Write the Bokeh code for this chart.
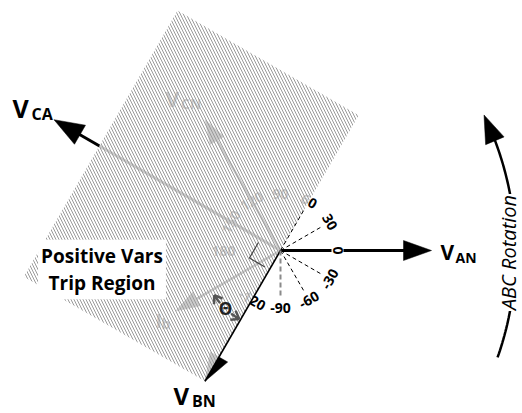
import numpy as np
from bokeh.plotting import figure
from bokeh.models import Range1d, Label
from bokeh.core.properties import value
from bokeh.embed import file_html
from bokeh.resources import INLINE

# ---------------- data ----------------
phasor_names = ["V_AN", "V_BN", "V_CN", "V_CA", "I_B"]
phasor_main = ["V", "V", "V", "V", "I"]
phasor_sub = ["AN", "BN", "CN", "CA", "b"]
phasor_angle_deg = [0, -120, 120, 150, -150]
phasor_mag_pu = [1.0, 1.0, 1.0, 1.732, 0.8]

scale_angle_deg = [60, 30, 0, -30, -60, -90, -120, 90, 120, 150, 180]
scale_text = ["60", "30", "0", "-30", "-60", "-90", "-120", "90", "120", "150", "180"]
ray_angle_deg = [60, 30, -30, -60, -90]

trip_axis_deg = 60
trip_along_pu = [-1.0, 1.035]
trip_across_pu = 1.385
theta_between_deg = [-121, -146]
rotation_arc_deg = [-19.4, 25.8]
region_text = "Positive Vars\nTrip Region"
rotation_text = "ABC Rotation"
theta_text = "Θ"

# ---------------- layout ----------------
S = 151.0          # px per pu
W, H = 522, 413
OX, OY = 280, 250  # origin location inside canvas
FONT = "Open Sans"


def pol(r, deg):
    a = np.deg2rad(deg)
    return r * np.cos(a), r * np.sin(a)


def head(tx, ty, deg, L, Wd):
    c, s = np.cos(np.deg2rad(deg)), np.sin(np.deg2rad(deg))
    bx, by = tx - L * c, ty - L * s
    xs = [tx, bx - Wd / 2 * s, bx + Wd / 2 * s]
    ys = [ty, by + Wd / 2 * c, by - Wd / 2 * c]
    return xs, ys, (bx + 3 * c, by + 3 * s)


# label offsets: (dx, dy of glyph middle from tip, font size)
style = {
    "V_AN": dict(w=2.8, L=28, Wd=20, m=(9, -1.5, "21px"), s=(24, -7, "14px")),
    "V_BN": dict(w=1.6, L=28, Wd=20, m=(-31.5, -14.5, "24px"), s=(-13, -20, "16px")),
    "V_CN": dict(w=2.5, L=24, Wd=16, m=(-39.5, 21.2, "21px"), s=(-24, 16.2, "14px")),
    "V_CA": dict(w=3.0, L=30, Wd=22, m=(-41.5, 11.8, "25px"), s=(-22.5, 6.2, "16px")),
    "I_B": dict(w=2.5, L=24, Wd=16, m=(-20.4, -9.6, "20px"), s=(-14.4, -12.6, "14px")),
}

p = figure(width=W, height=H, x_range=Range1d(-OX, W - OX), y_range=Range1d(-(H - OY), OY),
           output_backend="svg", toolbar_location=None, x_axis_type=None, y_axis_type=None,
           min_border=0, outline_line_color=None, background_fill_color="white",
           border_fill_color="white")

tips = {}
for name, ang, mag in zip(phasor_names, phasor_angle_deg, phasor_mag_pu):
    tips[name] = pol(mag * S, ang)


def draw_phasor(name, ang):
    st = style[name]
    tx, ty = tips[name]
    hx, hy, (bx, by) = head(tx, ty, ang, st["L"], st["Wd"])
    if name != "V_BN":
        p.line([0, bx], [0, by], line_color="black", line_width=st["w"])
    p.patch(hx, hy, fill_color="black", line_color="black", line_width=0.5)


def draw_label(name, color="black"):
    st = style[name]
    tx, ty = tips[name]
    i = phasor_names.index(name)
    p.text(x=[tx + st["m"][0]], y=[ty + st["m"][1]], text=[phasor_main[i]],
           text_font=value(FONT), text_font_style="bold", text_font_size=st["m"][2],
           text_align="left", text_baseline="middle", text_color=color)
    p.text(x=[tx + st["s"][0]], y=[ty + st["s"][1]], text=[phasor_sub[i]],
           text_font=value(FONT), text_font_style="bold", text_font_size=st["s"][2],
           text_align="left", text_baseline="middle", text_color=color)


# elements beneath the hatched overlay (appear faded)
for name, ang in zip(phasor_names, phasor_angle_deg):
    if name in ("V_CA", "V_CN", "I_B", "V_BN"):
        draw_phasor(name, ang)
draw_label("V_CN")
draw_label("I_B")

draw_phasor("V_AN", 0)

# angle scale labels
LR = 57


def tang(a):
    if a == 180:
        return 0
    r = (a - 90 + 180) % 360 - 180
    if r < -90:
        r += 180
    elif r > 90:
        r -= 180
    return r


lx, ly, lt, la = [], [], [], []
bx_, by_, bt_, ba_ = [], [], [], []
for a, t in zip(scale_angle_deg, scale_text):
    x, y = pol(LR, a)
    if a == 0:
        bx_.append(x); by_.append(y); bt_.append(t); ba_.append(np.deg2rad(tang(a)))
    else:
        lx.append(x); ly.append(y); lt.append(t); la.append(np.deg2rad(tang(a)))
p.text(x=lx, y=ly, text=lt, angle=la, text_font=value(FONT), text_font_style="bold",
       text_font_size="14px", text_align="center", text_baseline="middle", text_color="black")
p.text(x=bx_, y=by_, text=bt_, angle=ba_, text_font=value(FONT), text_font_style="bold",
       text_font_size="14px", text_align="center", text_baseline="middle", text_color="black",
       background_fill_color="white", padding=1)

# ---- hatched trip region ----
ux, uy = pol(1, trip_axis_deg)
vx, vy = pol(1, trip_axis_deg + 90)
a0, a1 = trip_along_pu[0] * S, trip_along_pu[1] * S
wd = trip_across_pu * S
rx = [a0 * ux, a1 * ux, a1 * ux + wd * vx, a0 * ux + wd * vx]
ry = [a0 * uy, a1 * uy, a1 * uy + wd * vy, a0 * uy + wd * vy]
p.patch(rx, ry, fill_color="white", fill_alpha=0.8, line_color=None,
        hatch_pattern="\\", hatch_color="#9a9a9a", hatch_scale=6, hatch_weight=1.0)

# ---- on top ----
p.line([0, tips["V_BN"][0]], [0, tips["V_BN"][1]], line_color="black", line_width=1.6)

for a in ray_angle_deg:
    x, y = pol(47, a)
    if a == -90:
        p.line([0, x], [0, y], line_color="#8a8a8a", line_width=2, line_dash="5 3")
    else:
        p.line([0, x], [0, y], line_color="black", line_width=1, line_dash="4 3")

# right-angle marker between V_CA and V_BN
cx, cy = -6.5, -1
sq = 18
e1 = pol(sq, phasor_angle_deg[3])
e2 = pol(sq, phasor_angle_deg[1])
p.line([cx + e1[0], cx + e1[0] + e2[0], cx + e2[0]],
       [cy + e1[1], cy + e1[1] + e2[1], cy + e2[1]], line_color="#444444", line_width=1.2)

# theta arcs with chevrons
TR = 80
t0, t1 = theta_between_deg
tm = (t0 + t1) / 2
gap = 5.5
for start, end in ((t1, tm - gap), (t0, tm + gap)):
    angs = np.linspace(start, end, 20)
    xs, ys = pol(TR, angs)
    p.line(list(xs), list(ys), line_color="#555555", line_width=2.5)
    tipx, tipy = pol(TR, start)
    d = np.sign(start - end)
    tdir = start + 90 * d
    for off in (35, -35):
        bxx, byy = pol(9, tdir + 180 + off)
        p.line([tipx, tipx + bxx], [tipy, tipy + byy], line_color="#555555", line_width=2.5)
thx, thy = pol(TR, tm)
p.text(x=[thx], y=[thy], text=[theta_text], text_font=value(FONT), text_font_style="bold",
       text_font_size="17px", text_align="center", text_baseline="middle", text_color="#222222")

draw_label("V_AN")
draw_label("V_CA")
draw_label("V_BN")

# ABC rotation arc
ACX, ACY, AR = -81, -2, 316
HL = 28
end_line = rotation_arc_deg[1] - np.rad2deg(HL / AR) + 0.5
angs = np.linspace(rotation_arc_deg[0], end_line, 60)
p.line(list(ACX + AR * np.cos(np.deg2rad(angs))), list(ACY + AR * np.sin(np.deg2rad(angs))),
       line_color="black", line_width=2.5)
tipx = ACX + AR * np.cos(np.deg2rad(rotation_arc_deg[1]))
tipy = ACY + AR * np.sin(np.deg2rad(rotation_arc_deg[1]))
hx, hy, _ = head(tipx, tipy, rotation_arc_deg[1] + 90 - 3, HL, 20)
p.patch(hx, hy, fill_color="black", line_color="black", line_width=0.5)

p.add_layout(Label(x=228, y=-2, text=rotation_text, angle=90, angle_units="deg",
                   text_align="center", text_baseline="middle", text_font=FONT,
                   text_font_style="italic", text_font_size="20px", text_color="black",
                   background_fill_color="white", padding=1))

p.add_layout(Label(x=-178.5, y=-19, text=region_text, text_align="center",
                   text_baseline="middle", text_font=FONT, text_font_style="bold",
                   text_font_size="19px", text_color="black", text_line_height=1.05,
                   background_fill_color="white", padding=3))

open("out.html", "w").write(file_html(p, INLINE))
